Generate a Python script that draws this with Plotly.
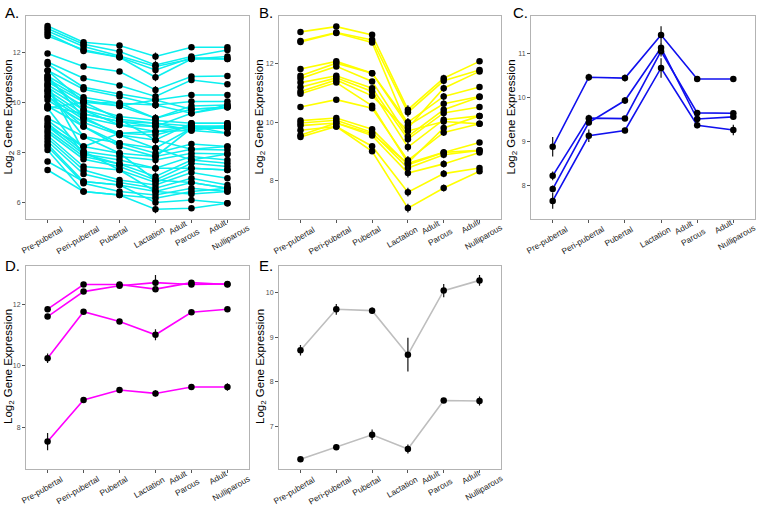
import plotly.graph_objects as go

stages = ["Pre-pubertal", "Peri-pubertal", "Pubertal", "Lactation", "Adult\nParous", "Adult\nNulliparous"]

# Panel A (cyan) - values per series: pre, peri, pub, lact, parous, nulliparous
a_series = [
    [13.05, 12.40, 12.27, 11.83, 12.20, 12.20],
    [12.95, 12.32, 12.03, 11.49, 11.83, 12.09],
    [12.85, 12.23, 11.85, 11.43, 11.73, 11.83],
    [12.75, 12.05, 11.80, 11.29, 11.78, 11.73],
    [12.65, 12.10, 11.80, 11.00, 11.73, 11.73],
    [11.95, 11.43, 11.23, 10.49, 11.03, 11.05],
    [11.61, 10.96, 10.67, 10.23, 10.89, 10.72],
    [11.52, 10.60, 10.33, 10.09, 10.29, 10.29],
    [11.27, 10.52, 10.23, 9.89, 10.03, 10.03],
    [11.05, 10.20, 9.96, 9.36, 9.85, 9.89],
    [10.93, 10.09, 9.85, 10.09, 9.72, 9.80],
    [10.81, 10.01, 9.96, 9.89, 9.56, 9.89],
    [10.69, 9.85, 9.43, 9.27, 9.16, 9.16],
    [10.59, 9.69, 9.32, 9.16, 9.05, 9.05],
    [10.47, 9.53, 9.23, 9.03, 8.96, 8.96],
    [10.36, 9.40, 9.09, 8.83, 8.87, 9.05],
    [10.23, 9.32, 8.76, 8.69, 9.05, 8.76],
    [10.09, 9.19, 8.69, 8.49, 9.16, 9.16],
    [9.85, 9.03, 8.36, 8.16, 8.96, 8.96],
    [9.76, 10.01, 9.85, 9.36, 9.72, 9.80],
    [9.36, 8.63, 8.36, 7.96, 8.33, 8.23],
    [9.27, 8.23, 7.96, 7.83, 8.12, 8.09],
    [9.15, 8.03, 7.83, 7.69, 7.96, 7.93],
    [9.03, 7.93, 7.69, 7.36, 7.83, 7.69],
    [8.89, 7.83, 7.53, 7.03, 7.69, 7.56],
    [8.79, 7.72, 7.43, 6.89, 7.56, 7.43],
    [8.67, 7.43, 7.29, 6.79, 7.36, 7.29],
    [8.56, 7.29, 6.89, 6.69, 7.19, 6.96],
    [8.44, 7.13, 6.79, 6.56, 6.96, 6.69],
    [8.32, 6.83, 6.69, 6.43, 6.79, 6.56],
    [8.23, 6.76, 6.43, 6.29, 6.56, 6.43],
    [8.09, 6.43, 6.29, 6.16, 6.43, 6.56],
    [7.63, 6.83, 6.69, 5.99, 6.09, 5.96],
    [7.29, 6.43, 6.29, 5.72, 5.76, 5.96],
    [10.23, 9.03, 8.23, 7.83, 8.96, 9.05],
    [10.47, 8.63, 7.96, 6.89, 6.79, 6.56],
    [10.69, 8.03, 7.29, 6.43, 6.33, 6.43],
    [11.05, 9.40, 8.69, 8.16, 7.69, 7.93],
    [9.85, 9.53, 9.23, 9.16, 8.87, 8.76],
    [9.76, 7.93, 7.53, 7.36, 7.36, 7.29],
    [11.27, 10.01, 9.32, 8.49, 8.12, 8.23],
    [10.93, 9.69, 9.09, 9.03, 9.56, 9.80],
    [9.03, 8.23, 8.76, 8.83, 9.05, 8.96],
]
a_err = [0.06, 0.06, 0.06, 0.16, 0.08, 0.08]

# Panel B (yellow)
b_series = [
    [13.06, 13.24, 12.96, 10.42, 11.49, 12.06],
    [12.75, 13.04, 12.79, 10.33, 11.40, 11.77],
    [12.72, 13.02, 12.70, 9.80, 11.15, 11.72],
    [11.80, 12.06, 11.66, 9.99, 10.87, 11.19],
    [11.57, 12.00, 11.66, 9.88, 10.62, 10.87],
    [11.48, 11.89, 11.38, 9.51, 10.42, 10.85],
    [11.34, 11.57, 11.15, 9.42, 10.31, 10.51],
    [11.18, 11.50, 11.04, 9.15, 10.08, 10.21],
    [11.04, 11.43, 10.89, 9.70, 10.02, 9.94],
    [10.96, 11.34, 10.55, 8.62, 9.80, 10.21],
    [10.51, 10.76, 10.47, 8.70, 9.65, 9.94],
    [10.05, 10.14, 9.76, 8.55, 8.97, 9.31],
    [9.97, 10.06, 9.65, 8.44, 8.89, 9.04],
    [9.88, 9.97, 9.54, 8.27, 8.58, 8.97],
    [9.72, 9.85, 9.18, 7.62, 8.25, 8.44],
    [9.49, 9.85, 9.01, 7.08, 7.76, 8.33],
    [9.55, 9.97, 9.60, 8.60, 8.97, 9.04],
]
b_err = [0.07, 0.08, 0.07, 0.15, 0.12, 0.08]

# Panel C (blue)
c_series = [
    [8.88, 10.46, 10.44, 11.42, 10.42, 10.42],
    [8.22, 9.53, 9.52, 11.05, 9.65, 9.64],
    [7.92, 9.43, 9.93, 11.13, 9.51, 9.56],
    [7.65, 9.13, 9.25, 10.67, 9.37, 9.26],
]
c_err = [
    [0.22, 0.08, 0.08, 0.20, 0.04, 0.04],
    [0.10, 0.08, 0.05, 0.12, 0.06, 0.06],
    [0.08, 0.06, 0.08, 0.10, 0.06, 0.06],
    [0.18, 0.14, 0.06, 0.22, 0.07, 0.12],
]

# Panel D (magenta)
d_series = [
    [11.84, 12.64, 12.64, 12.49, 12.70, 12.64],
    [11.60, 12.41, 12.60, 12.70, 12.64, 12.66],
    [10.25, 11.76, 11.44, 11.01, 11.74, 11.84],
    [7.55, 8.90, 9.22, 9.11, 9.32, 9.32],
]
d_err = [
    [0.05, 0.04, 0.06, 0.05, 0.06, 0.05],
    [0.05, 0.08, 0.04, 0.25, 0.05, 0.05],
    [0.15, 0.05, 0.08, 0.18, 0.05, 0.04],
    [0.28, 0.07, 0.05, 0.10, 0.06, 0.12],
]

# Panel E (grey)
e_series = [
    [8.71, 9.63, 9.60, 8.61, 10.05, 10.28],
    [6.26, 6.53, 6.81, 6.49, 7.58, 7.57],
]
e_err = [
    [0.12, 0.12, 0.07, 0.38, 0.15, 0.12],
    [0.03, 0.06, 0.12, 0.10, 0.02, 0.10],
]

W, H = 763, 505

def xd(a, b):
    return [a / W, b / W]

def yd(top, bottom):
    return [1 - bottom / H, 1 - top / H]

panels = [
    dict(label="A.", n="", series=a_series, err=[a_err] * len(a_series), color="#0CEFEF",
         xdom=xd(26, 249), ydom=yd(16, 219), yrange=[5.33, 13.45], ytv=[6, 8, 10, 12],
         lab_xy=(3, 12), ttl_x=9, ttl_y=117.5),
    dict(label="B.", n="2", series=b_series, err=[b_err] * len(b_series), color="#FFFF00",
         xdom=xd(279, 501), ydom=yd(16, 219), yrange=[6.71, 13.6], ytv=[8, 10, 12],
         lab_xy=(257, 12), ttl_x=260, ttl_y=117.5),
    dict(label="C.", n="3", series=c_series, err=c_err, color="#1010EE",
         xdom=xd(531, 755), ydom=yd(16, 219), yrange=[7.24, 11.85], ytv=[8, 9, 10, 11],
         lab_xy=(511, 12), ttl_x=512, ttl_y=117.5),
    dict(label="D.", n="4", series=d_series, err=d_err, color="#FF00FF",
         xdom=xd(26, 249), ydom=yd(265.7, 469), yrange=[6.66, 13.25], ytv=[8, 10, 12],
         lab_xy=(3, 265), ttl_x=9, ttl_y=367),
    dict(label="E.", n="5", series=e_series, err=e_err, color="#BEBEBE",
         xdom=xd(279, 501), ydom=yd(265.7, 469), yrange=[6.04, 10.61], ytv=[7, 8, 9, 10],
         lab_xy=(257, 265), ttl_x=261, ttl_y=367),
]

fig = go.Figure()
layout = dict(width=W, height=H, autosize=False, margin=dict(l=0, r=0, t=0, b=0, pad=0),
              plot_bgcolor="white", paper_bgcolor="white", showlegend=False,
              font=dict(family="Liberation Sans, Arial, sans-serif"))
annotations = []
xs = list(range(len(stages)))
lab_font = dict(size=8.3, color="#1a1a1a")

for p in panels:
    n = p["n"]
    xa = "x" + n
    ya = "y" + n
    for s in p["series"]:
        fig.add_trace(go.Scatter(x=xs, y=s, mode="lines", xaxis=xa, yaxis=ya,
                                 line=dict(color=p["color"], width=1.6), hoverinfo="skip"))
    for s, e in zip(p["series"], p["err"]):
        fig.add_trace(go.Scatter(x=xs, y=s, mode="markers", xaxis=xa, yaxis=ya,
                                 marker=dict(color="black", size=6.5),
                                 error_y=dict(type="data", array=e, visible=True,
                                              color="#111111", thickness=1.2, width=0)))
    axkey = "xaxis" + n
    aykey = "yaxis" + n
    layout[axkey] = dict(domain=p["xdom"], anchor=ya, range=[-0.6, 5.6],
                         tickvals=xs, showticklabels=False, ticks="outside", ticklen=3,
                         tickcolor="#555555", showgrid=False, zeroline=False, automargin=False,
                         showline=True, mirror=True, linecolor="#b3b3b3", linewidth=1)
    layout[aykey] = dict(domain=p["ydom"], anchor=xa, range=p["yrange"],
                         tickvals=p["ytv"], ticks="outside", ticklen=3, tickcolor="#555555",
                         tickfont=dict(size=7, color="#4d4d4d"), automargin=False,
                         showgrid=False, zeroline=False,
                         showline=True, mirror=True, linecolor="#b3b3b3", linewidth=1)
    for i, st in enumerate(stages):
        parts = st.split("\n")
        if len(parts) == 1:
            annotations.append(dict(text=st, x=i, y=0, xref=xa, yref=ya + " domain",
                                    xanchor="center", yanchor="top", yshift=-2, xshift=-6,
                                    textangle=-30, showarrow=False, font=lab_font))
        else:
            long2 = len(parts[1]) > 8
            offs = [(-9, -7.5), (4, -18.5)] if long2 else [(-13, -8), (-4, -18)]
            for part, (dx, dy) in zip(parts, offs):
                annotations.append(dict(text=part, x=i, y=0, xref=xa, yref=ya + " domain",
                                        xanchor="center", yanchor="middle", yshift=dy, xshift=dx,
                                        textangle=-30, showarrow=False, font=lab_font))
    lx, ly = p["lab_xy"]
    annotations.append(dict(text=p["label"], x=lx / W, y=1 - ly / H, xref="paper", yref="paper",
                            xanchor="left", yanchor="middle", showarrow=False,
                            font=dict(size=15, color="black")))
    annotations.append(dict(text="Log<sub>2</sub> Gene Expression", x=p["ttl_x"] / W,
                            y=1 - p["ttl_y"] / H, xref="paper", yref="paper",
                            xanchor="center", yanchor="middle", textangle=-90, showarrow=False,
                            font=dict(size=11.5, color="black")))

layout["annotations"] = annotations
fig.update_layout(**layout)
fig.write_html("out.html", config={"displayModeBar": False},
               post_script="document.body.style.margin='0px';document.body.style.padding='0px';")
